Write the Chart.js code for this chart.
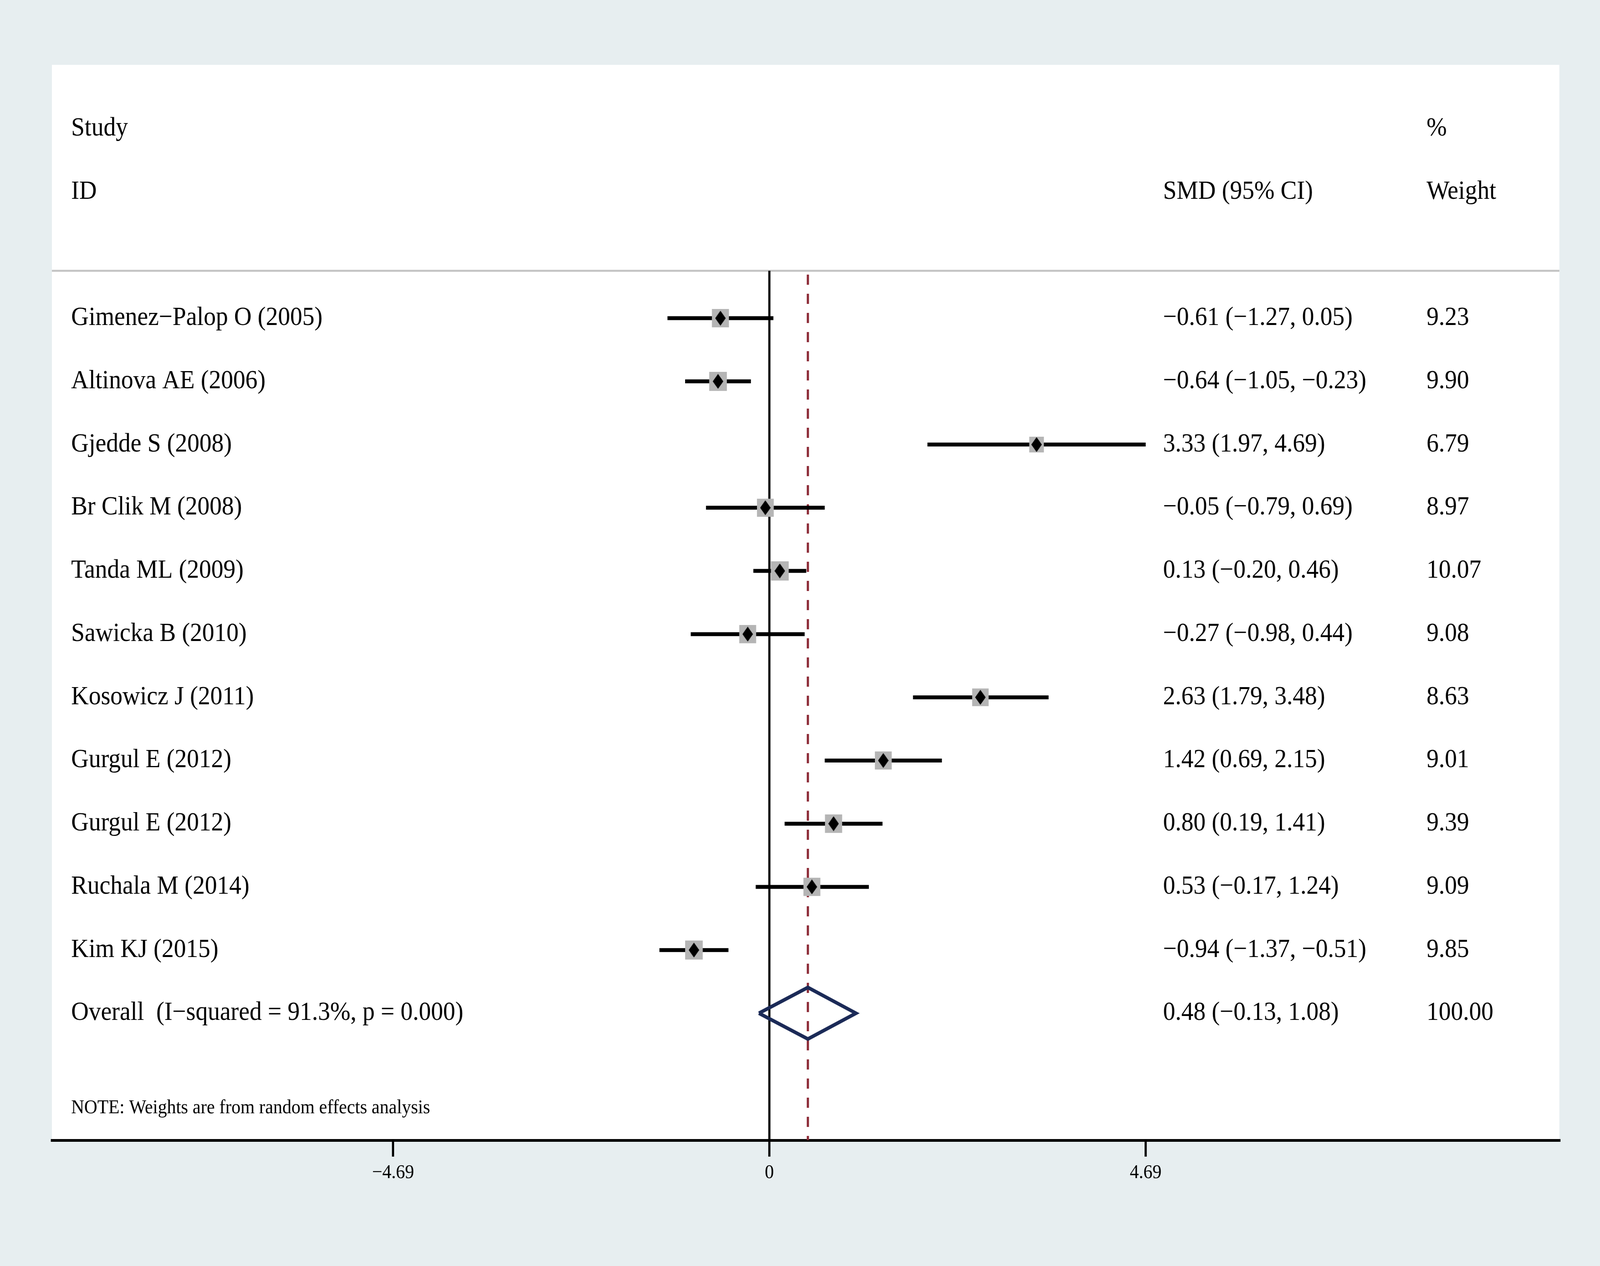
<!DOCTYPE html>
<html><head><meta charset="utf-8">
<script src="https://cdn.jsdelivr.net/npm/chart.js@4.4.1/dist/chart.umd.min.js"></script>
<style>html,body{margin:0;padding:0;background:#e7eef0;overflow:hidden;width:100%;height:100%}canvas{display:block}</style>
</head><body>
<canvas id="c" width="4409" height="3241" style="width:100vw;height:100vh"></canvas>
<script>
// ---- data ----
const studies = ["Gimenez\u2212Palop O (2005)", "Altinova AE (2006)", "Gjedde S (2008)", "Br Clik M (2008)",
  "Tanda ML (2009)", "Sawicka B (2010)", "Kosowicz J (2011)", "Gurgul E (2012)", "Gurgul E (2012)",
  "Ruchala M (2014)", "Kim KJ (2015)"];
const smd    = [-0.61, -0.64, 3.33, -0.05, 0.13, -0.27, 2.63, 1.42, 0.80, 0.53, -0.94];
const ciLow  = [-1.27, -1.05, 1.97, -0.79, -0.20, -0.98, 1.79, 0.69, 0.19, -0.17, -1.37];
const ciHigh = [0.05, -0.23, 4.69, 0.69, 0.46, 0.44, 3.48, 2.15, 1.41, 1.24, -0.51];
const weights = [9.23, 9.90, 6.79, 8.97, 10.07, 9.08, 8.63, 9.01, 9.39, 9.09, 9.85];
const overallLabel = "Overall  (I\u2212squared = 91.3%, p = 0.000)";
const overallSmd = 0.48, overallLow = -0.13, overallHigh = 1.08, overallWeight = 100.00;
const tickValues = [-4.69, 0, 4.69];
const tickLabels = ["\u22124.69", "0", "4.69"];
const headerStudy = ["Study", "ID"];
const headerSmd = ["", "SMD (95% CI)"];
const headerWeight = ["%", "Weight"];
const noteText = "NOTE: Weights are from random effects analysis";

// ---- row layout (row index on the y scale) ----
const headerRows = [-2, -1];
const studyRows = studies.map((s, i) => i + 1);
const overallRow = studies.length + 1;
const headerLineRow = 0.25;
const noteRow = 13.5;
const Y_MIN = -3.01, Y_MAX = 14.01;
const X_MIN = -8.942, X_MAX = 9.846;
const DIAMOND_HALF = 0.408;

const fmt = v => (v < 0 ? "\u2212" : "") + Math.abs(v).toFixed(2);

// diamond marker image
const dia = document.createElement('canvas');
dia.width = 29; dia.height = 38;
(function () {
  const g = dia.getContext('2d');
  g.fillStyle = '#000';
  g.beginPath(); g.moveTo(14.5, 0); g.lineTo(29, 19); g.lineTo(14.5, 38); g.lineTo(0, 19); g.closePath(); g.fill();
})();

const datasets = [];
// reference lines
datasets.push({ data: [{x: 0, y: headerLineRow}, {x: 0, y: Y_MAX}], showLine: true, borderColor: '#000',
  borderWidth: 6, pointRadius: 0, order: 9 });
datasets.push({ data: [{x: overallSmd, y: 0.31}, {x: overallSmd, y: Y_MAX}], showLine: true, borderColor: '#8c2a36',
  borderWidth: 6, borderDash: [26, 23], pointRadius: 0, order: 8 });
datasets.push({ data: [{x: X_MIN, y: headerLineRow}, {x: X_MAX, y: headerLineRow}], showLine: true, borderColor: '#c3c3c3',
  borderWidth: 5, pointRadius: 0, order: 9 });
// CI lines
studies.forEach((s, i) => {
  datasets.push({ data: [{x: ciLow[i], y: studyRows[i]}, {x: ciHigh[i], y: studyRows[i]}], showLine: true,
    borderColor: '#000', borderWidth: 10, pointRadius: 0, order: 6 });
});
// weight squares
datasets.push({ data: studies.map((s, i) => ({x: smd[i], y: studyRows[i]})), showLine: false,
  pointStyle: 'rect', pointRadius: weights.map(w => 10.94 * Math.sqrt(w)), backgroundColor: '#b5b5b5',
  borderWidth: 0, order: 4 });
// point estimates
datasets.push({ data: studies.map((s, i) => ({x: smd[i], y: studyRows[i]})), showLine: false,
  pointStyle: dia, pointRadius: 10, order: 3 });
// overall diamond
datasets.push({ data: [{x: overallLow, y: overallRow}, {x: overallSmd, y: overallRow - DIAMOND_HALF},
  {x: overallHigh, y: overallRow}, {x: overallSmd, y: overallRow + DIAMOND_HALF}, {x: overallLow, y: overallRow}],
  showLine: true, borderColor: '#1b2a57', borderWidth: 9, borderJoinStyle: 'miter', pointRadius: 0, fill: false, order: 2 });

const bgPlugin = {
  id: 'bg',
  beforeDraw(chart) {
    const {ctx, chartArea: a} = chart;
    ctx.save();
    ctx.fillStyle = '#e7eef0';
    ctx.fillRect(0, 0, chart.width, chart.height);
    ctx.fillStyle = '#ffffff';
    ctx.fillRect(a.left, a.top, a.right - a.left, a.bottom - a.top);
    ctx.restore();
  }
};
const textPlugin = {
  id: 'texts',
  afterDatasetsDraw(chart) {
    const ctx = chart.ctx, ys = chart.scales.y;
    const X1 = 196, X2 = 3205, X3 = 3931;
    ctx.save();
    ctx.fillStyle = '#000';
    ctx.textBaseline = 'middle';
    ctx.textAlign = 'left';
    ctx.font = '67px "Liberation Serif"';
    headerRows.forEach((r, k) => {
      const py = ys.getPixelForValue(r);
      ctx.fillText(headerStudy[k], X1, py);
      ctx.fillText(headerSmd[k], X2, py);
      ctx.fillText(headerWeight[k], X3, py);
    });
    studies.forEach((s, i) => {
      const py = ys.getPixelForValue(studyRows[i]);
      ctx.fillText(s, X1, py);
      ctx.fillText(fmt(smd[i]) + " (" + fmt(ciLow[i]) + ", " + fmt(ciHigh[i]) + ")", X2, py);
      ctx.fillText(weights[i].toFixed(2), X3, py);
    });
    const po = ys.getPixelForValue(overallRow);
    ctx.fillText(overallLabel, X1, po);
    ctx.fillText(fmt(overallSmd) + " (" + fmt(overallLow) + ", " + fmt(overallHigh) + ")", X2, po);
    ctx.fillText(overallWeight.toFixed(2), X3, po);
    ctx.font = '50px "Liberation Serif"';
    ctx.fillText(noteText, X1, ys.getPixelForValue(noteRow));
    ctx.restore();
  }
};

new Chart(document.getElementById('c'), {
  type: 'scatter',
  data: { datasets },
  options: {
    responsive: false, animation: false, devicePixelRatio: 1,
    layout: { padding: { left: 143, right: 112, top: 166, bottom: 0 } },
    plugins: { legend: { display: false }, tooltip: { enabled: false } },
    scales: {
      x: {
        type: 'linear', min: X_MIN, max: X_MAX,
        afterBuildTicks: s => { s.ticks = tickValues.map(v => ({ value: v })); },
        afterFit: s => { s.height = 322; },
        grid: { drawOnChartArea: false, drawTicks: true, tickLength: 42, tickWidth: 6, tickColor: '#000', color: '#000', lineWidth: 6 },
        border: { display: true, color: '#000', width: 7 },
        ticks: { font: { family: 'Liberation Serif', size: 50 }, color: '#000', padding: 12, maxRotation: 0, autoSkip: false,
          callback: (v, i) => tickLabels[i] }
      },
      y: { type: 'linear', min: Y_MIN, max: Y_MAX, reverse: true, display: false }
    }
  },
  plugins: [bgPlugin, textPlugin]
});
</script>
</body></html>
